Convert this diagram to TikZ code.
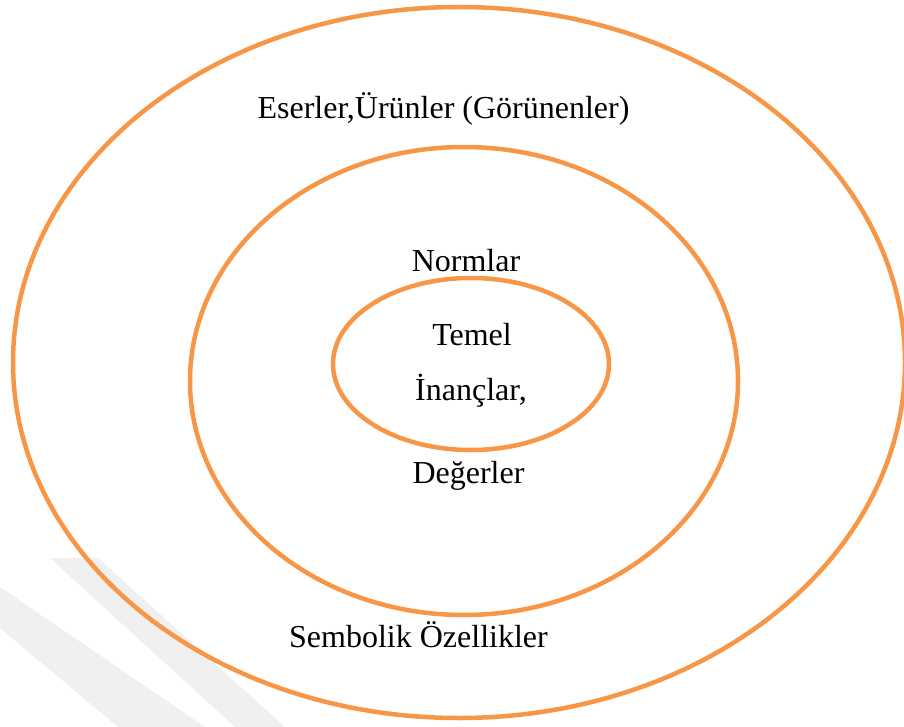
\documentclass[tikz,border=0pt]{standalone}
\usepackage{fontspec}
\setmainfont{Liberation Serif}
\begin{document}
\begin{tikzpicture}[x=1pt,y=-1pt,
  ring/.style={draw=ringorange,line width=4.5pt},
  label/.style={anchor=base,inner sep=0pt,font=\fontsize{32}{38}\selectfont},
  stripe/.style={fill=black!6,draw=none}]
\definecolor{ringorange}{HTML}{F79646}
\useasboundingbox (0,0) rectangle (904,727);
% faint background stripes
\fill[stripe] (50,558) -- (98,558) -- (285,727) -- (235,727) -- cycle;
\fill[stripe] (0,587) -- (0,628) -- (118,727) -- (205,727) -- cycle;
% rings
\draw[ring] (459,362.5) ellipse [x radius=446, y radius=355.5];
\draw[ring] (464,381) ellipse [x radius=274, y radius=234];
\draw[ring] (471,364) ellipse [x radius=138, y radius=86];
% texts
\node[label] (outer) at (443.5,119) {Eserler,Ürünler (Görünenler)};
\node[label] (norm) at (466,272) {Normlar};
\node[label] (temel) at (472,345) {Temel};
\node[label] (inanc) at (471,400) {İnançlar,};
\node[label] (deger) at (468.5,483) {Değerler};
\node[label] (sembol) at (418.5,647) {Sembolik Özellikler};
\end{tikzpicture}
\end{document}
